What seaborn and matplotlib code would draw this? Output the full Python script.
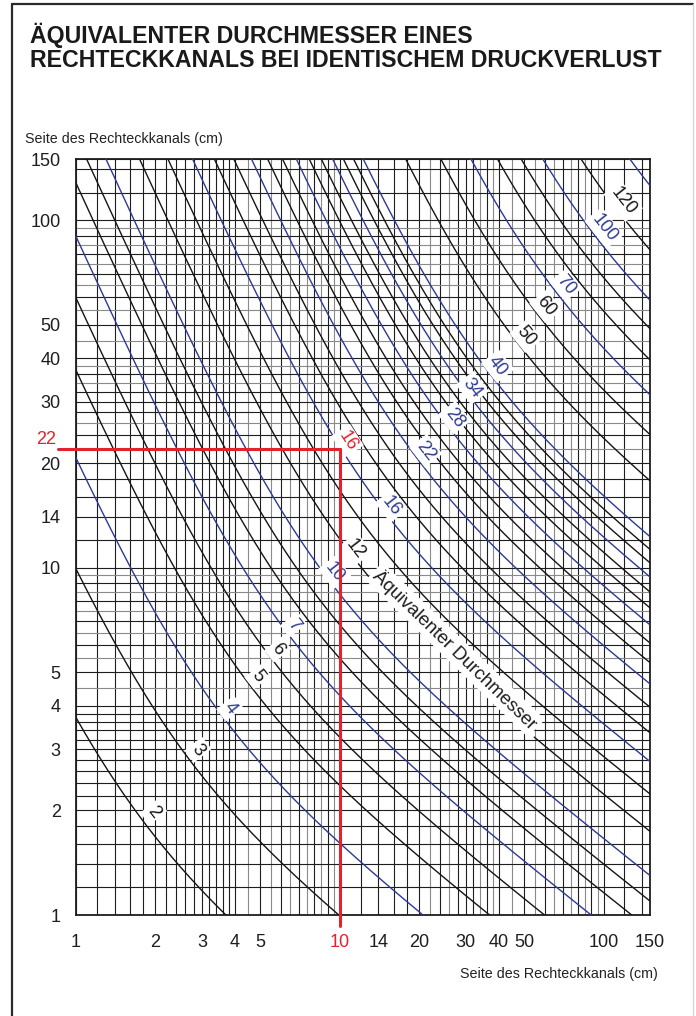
import numpy as np
import pandas as pd
import matplotlib
matplotlib.use('Agg')
import matplotlib.pyplot as plt
from matplotlib.lines import Line2D
from matplotlib.ticker import NullFormatter
import seaborn as sns

# equivalent diameters of the drawn curves (cm)
diameters = [2, 3, 4, 5, 6, 7, 8, 9, 10, 12, 14, 16, 18, 20, 22, 24, 26, 28, 30,
             32, 34, 36, 38, 40, 50, 60, 70, 80, 90, 100, 120, 150]
blue_diameters = [4, 7, 10, 16, 22, 28, 34, 40, 70, 100, 150]

# curve labels and where each label sits (side a, side b)
label_diams = [2, 3, 4, 5, 6, 7, 10, 12, 16, 22, 28, 34, 40, 50, 60, 70, 100, 120]
label_x = [1.97, 2.9, 3.83, 4.89, 5.82, 6.68, 9.55, 11.5, 15.7, 21.2, 27.2, 31.8,
           39.7, 50.8, 60.5, 72, 100.5, 118.6]
label_y = [1.98, 2.99, 3.93, 4.86, 5.81, 6.85, 9.69, 11.3, 15.06, 21.7, 27.0, 32.9,
           38.0, 46.4, 56.5, 65.1, 95.0, 113.3]

# worked example: 10 cm x 22 cm -> 16 cm
ex_a, ex_b, ex_d = 10, 22, 16
ex_label_xy = (10.7, 23.2)

# the curve that carries the caption, where the curve is cut, and the caption centre
caption = 'Äquivalenter Durchmesser'
caption_d = 12
caption_span = (13.0, 54.5)
caption_xy = (27.4, 5.8)

# grid lines: dark ones and light ones
grid_dark = [1, 1.2, 1.4, 1.6, 1.8, 2, 2.2, 2.4, 2.6, 2.8, 3, 3.2, 3.4, 3.6, 3.8, 4,
             5, 6, 7, 8, 9, 10, 12, 14, 16, 18, 20, 24, 28, 30, 32, 36, 40,
             50, 60, 70, 80, 90, 100, 120, 140, 150]
grid_light = [4.5, 5.5, 6.5, 7.5, 8.5, 9.5, 22, 26, 34, 38, 45, 55, 65, 75, 85, 95]
tick_labels = [1, 2, 3, 4, 5, 10, 14, 20, 30, 40, 50, 100, 150]

BLUE = '#2d3a92'
BLACK = '#151515'
RED = '#e3232b'

sns.set_style('white')
plt.rcParams['font.family'] = ['Liberation Sans', 'DejaVu Sans']

# Huebscher relation written along the aspect ratio r = a/b
ratios = np.geomspace(1e-3, 1e3, 4000)


def curve(d):
    b = d * (1 + ratios) ** 0.25 / (1.3 * ratios ** 0.625)
    a = ratios * b
    keep = (a > 0.5) & (a < 300) & (b > 0.5) & (b < 300)
    return a[keep], b[keep]


frames = []
for d in diameters:
    a, b = curve(d)
    seg = np.full(len(a), f'{d}-0', dtype=object)
    if d == caption_d:
        gap = (a > caption_span[0]) & (a < caption_span[1])
        seg[a >= caption_span[1]] = f'{d}-1'
        a, b, seg = a[~gap], b[~gap], seg[~gap]
    frames.append(pd.DataFrame({'a': a, 'b': b, 'd': d, 'seg': seg}))
df = pd.concat(frames, ignore_index=True)
palette = {d: (BLUE if d in blue_diameters else BLACK) for d in diameters}

fig = plt.figure(figsize=(6.96, 10.16), dpi=100)
ax = fig.add_axes([76 / 696, 1 - 915 / 1016, 574 / 696, 756 / 1016])
ax.set_xscale('log')
ax.set_yscale('log')

sns.lineplot(data=df, x='a', y='b', hue='d', units='seg', estimator=None, sort=False,
             palette=palette, legend=False, linewidth=1.0, ax=ax, zorder=3)

ax.set_xlim(1, 150)
ax.set_ylim(1, 150)
ax.set_xlabel('')
ax.set_ylabel('')

labels_txt = [f'{v:g}' if v in tick_labels else '' for v in grid_dark]
ax.set_xticks(grid_dark, labels_txt)
ax.set_yticks(grid_dark, labels_txt)
ax.set_xticks(grid_light, minor=True)
ax.set_yticks(grid_light, minor=True)
ax.xaxis.set_minor_formatter(NullFormatter())
ax.yaxis.set_minor_formatter(NullFormatter())
ax.grid(which='major', color='#1e1e1e', linewidth=0.8)
ax.grid(which='minor', color='#8a8a8a', linewidth=0.8)
ax.set_axisbelow(True)
ax.tick_params(which='both', direction='out', length=5, width=0.8, color='#1e1e1e',
               labelsize=13, labelcolor='#1e1e1e')
ax.tick_params(axis='x', which='both', pad=9)
ax.tick_params(axis='y', which='both', pad=6)
for t in ax.get_xticklabels():
    if t.get_text() == '10':
        t.set_color(RED)
for s in ax.spines.values():
    s.set_color('#1e1e1e')
    s.set_linewidth(1.3)


def on_curve(d, x):
    a, b = curve(d)
    return np.exp(np.interp(np.log(x), np.log(a), np.log(b)))


def angle_at(d, x0, x1):
    p0 = ax.transData.transform((x0, on_curve(d, x0)))
    p1 = ax.transData.transform((x1, on_curve(d, x1)))
    return np.degrees(np.arctan2(p1[1] - p0[1], p1[0] - p0[0]))


box = dict(boxstyle='square,pad=0.15', facecolor='white', edgecolor='none')
for d, x, y in zip(label_diams, label_x, label_y):
    ax.text(x, y, f'{d}', color=palette[d], fontsize=13,
            rotation=angle_at(d, x * 0.97, x * 1.03), rotation_mode='anchor',
            ha='center', va='center', bbox=box, zorder=6)

# caption along the 12 cm curve
x0, x1 = caption_span
ax.text(*caption_xy, caption, color='#1e1e1e', fontsize=13.5,
        rotation=angle_at(caption_d, x0, x1), rotation_mode='anchor',
        ha='center', va='center', bbox=box, zorder=6)

# worked example in red
ax.plot([ex_a, ex_a], [0.93, ex_b], color=RED, linewidth=2.2, clip_on=False, zorder=7)
ax.plot([0.855, ex_a], [ex_b, ex_b], color=RED, linewidth=2.2, clip_on=False, zorder=7)
ax.annotate(f'{ex_b}', xy=(0, ex_b), xycoords=('axes fraction', 'data'),
            xytext=(-14, 0.5), textcoords='offset points', ha='right', va='bottom',
            color=RED, fontsize=13)
ex_x = ex_label_xy[0]
ax.text(*ex_label_xy, f'{ex_d}', color=RED, fontsize=13,
        rotation=angle_at(ex_d, ex_x * 0.97, ex_x * 1.03),
        rotation_mode='anchor', ha='center', va='center', bbox=box, zorder=6)

# titles and axis captions
fig.text(30 / 696, 1 - 43.5 / 1016, 'ÄQUIVALENTER DURCHMESSER EINES', fontsize=16.7,
         fontweight='bold', color='#1a1a1a', ha='left', va='baseline')
fig.text(30 / 696, 1 - 67 / 1016, 'RECHTECKKANALS BEI IDENTISCHEM DRUCKVERLUST',
         fontsize=16.7, fontweight='bold', color='#1a1a1a', ha='left', va='baseline')
fig.text(25 / 696, 1 - 138.5 / 1016, 'Seite des Rechteckkanals (cm)', fontsize=10.3,
         color='#222222', ha='left', va='center')
fig.text(658 / 696, 1 - 974 / 1016, 'Seite des Rechteckkanals (cm)', fontsize=10.3,
         color='#222222', ha='right', va='center')

# outer frame
fig.add_artist(Line2D([12 / 696, 12 / 696], [0, 1 - 4 / 1016], color='#2a2a2a', linewidth=1.6))
fig.add_artist(Line2D([12 / 696, 693 / 696], [1 - 4 / 1016, 1 - 4 / 1016], color='#2a2a2a', linewidth=1.6))
fig.add_artist(Line2D([693 / 696, 693 / 696], [0, 1 - 4 / 1016], color='#d8d8d8', linewidth=1.0))

fig.savefig('out.png', dpi=100)
